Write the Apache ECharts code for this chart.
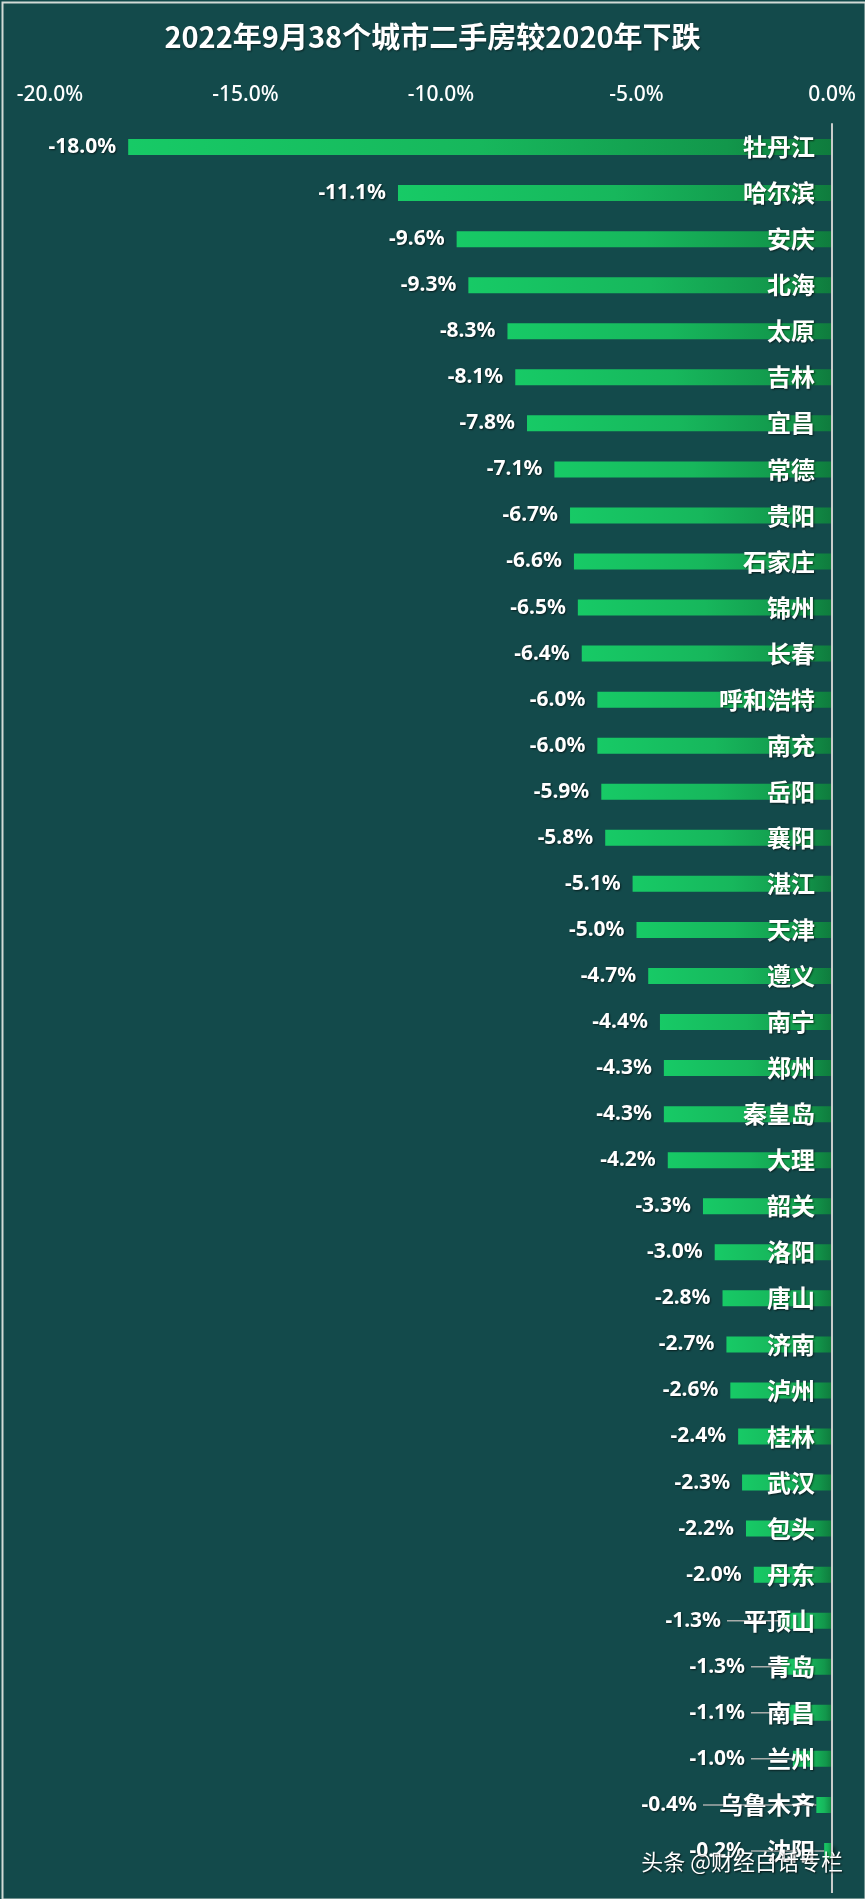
<!DOCTYPE html>
<html>
<head>
<meta charset="utf-8">
<script src="https://cdn.jsdelivr.net/npm/echarts@6/dist/echarts.min.js"></script>
<style>
html,body{margin:0;padding:0;background:#134a4b;}
#chart{width:865px;height:1899px;}
</style>
</head>
<body>
<div id="chart"></div>
<script>
var titleText = '2022年9月38个城市二手房较2020年下跌';
var cities = ['牡丹江','哈尔滨','安庆','北海','太原','吉林','宜昌','常德','贵阳','石家庄','锦州','长春','呼和浩特','南充','岳阳','襄阳','湛江','天津','遵义','南宁','郑州','秦皇岛','大理','韶关','洛阳','唐山','济南','泸州','桂林','武汉','包头','丹东','平顶山','青岛','南昌','兰州','乌鲁木齐','沈阳'];
var changes = [-18.0,-11.1,-9.6,-9.3,-8.3,-8.1,-7.8,-7.1,-6.7,-6.6,-6.5,-6.4,-6.0,-6.0,-5.9,-5.8,-5.1,-5.0,-4.7,-4.4,-4.3,-4.3,-4.2,-3.3,-3.0,-2.8,-2.7,-2.6,-2.4,-2.3,-2.2,-2.0,-1.3,-1.3,-1.1,-1.0,-0.4,-0.2];
var xMin = -20, xMax = 0, xStep = 5;
var watermark = '头条 @财经白话专栏';

var NAME_FONT = 'bold 24px "Noto Sans CJK SC"';
var VAL_FONT = 'bold 21px "Noto Sans"';
var measureCtx = document.createElement('canvas').getContext('2d');
function textWidth(t, font){ measureCtx.font = font; return measureCtx.measureText(t).width; }

var chart = echarts.init(document.getElementById('chart'));
var NAME_MARGIN = 17;

var barGradient = new echarts.graphic.LinearGradient(0, 0, 1, 0, [
  {offset: 0, color: '#17ca66'},
  {offset: 0.5, color: '#17b75c'},
  {offset: 0.85, color: '#12974b'},
  {offset: 1, color: '#0f7b3d'}
]);

var option = {
  backgroundColor: '#134a4b',
  animation: false,
  title: {
    text: titleText,
    left: 'center',
    top: 17,
    textStyle: {color: '#ffffff', fontSize: 29, fontWeight: 'bold', fontFamily: '"Noto Sans CJK SC"',
      textShadowColor: 'rgba(0,0,0,0.5)', textShadowBlur: 2, textShadowOffsetX: 1, textShadowOffsetY: 1}
  },
  grid: {left: 50, right: 33, top: 124, height: 1750, containLabel: false},
  xAxis: {
    type: 'value', position: 'top', min: xMin, max: xMax, interval: xStep,
    axisLine: {show: false}, axisTick: {show: false}, splitLine: {show: false},
    axisLabel: {color: '#ffffff', fontSize: 21, fontFamily: '"Noto Sans"', fontWeight: 500, margin: 18,
      formatter: function(v){ return v.toFixed(1) + '%'; }}
  },
  yAxis: {
    type: 'category', data: cities, inverse: true, position: 'right', z: 10,
    axisLine: {show: true, lineStyle: {color: '#c9cccb', width: 2}},
    axisTick: {show: false},
    axisLabel: {inside: true, margin: NAME_MARGIN, color: '#ffffff', fontSize: 24, fontWeight: 'bold',
      fontFamily: '"Noto Sans CJK SC"',
      textShadowColor: 'rgba(0,0,0,0.6)', textShadowBlur: 2, textShadowOffsetX: 1, textShadowOffsetY: 1}
  },
  series: [
    {
      type: 'bar', data: changes, barWidth: 16,
      itemStyle: {color: barGradient, shadowColor: 'rgba(0,0,0,0.55)', shadowBlur: 4, shadowOffsetX: 3, shadowOffsetY: 4}
    },
    {
      type: 'custom', z: 5,
      data: changes.map(function(v, i){ return [i, v]; }),
      encode: {x: 1, y: 0},
      renderItem: function(params, api){
        var i = api.value(0), v = api.value(1);
        var p = api.coord([v, i]);
        var zero = api.coord([0, i]);
        var nameLeft = zero[0] - NAME_MARGIN - textWidth(cities[i], NAME_FONT);
        var right = p[0] - 12;
        var children = [];
        if (right > nameLeft - 4) {
          right = nameLeft - 22;
          children.push({type: 'line', shape: {x1: right + 6, y1: p[1], x2: p[0], y2: p[1]},
            style: {stroke: '#a9adab', lineWidth: 1.5}});
        }
        children.push({type: 'text', style: {text: v.toFixed(1) + '%', x: right, y: p[1], align: 'right', verticalAlign: 'middle',
          fill: '#ffffff', font: VAL_FONT, textShadowColor: 'rgba(0,0,0,0.6)', textShadowBlur: 2, textShadowOffsetX: 1, textShadowOffsetY: 1}});
        return {type: 'group', children: children};
      }
    }
  ]
};
chart.setOption(option);

// extend the right axis line down to the frame bottom, as in the original
var axisX = chart.convertToPixel({xAxisIndex: 0}, 0);
var gridBottom = 124 + 1750;
chart.setOption({graphic: [
  {type: 'rect', left: 0, top: 0, z: 100, shape: {x: 1, y: 1, width: 863, height: 1897},
    style: {fill: 'none', stroke: '#d2dad6', lineWidth: 2}},
  {type: 'text', right: 22, top: 1851, z: 100,
    style: {text: watermark, fill: '#ffffff', font: '22px "Noto Sans CJK SC"',
      textShadowColor: 'rgba(0,0,0,0.8)', textShadowBlur: 2, textShadowOffsetX: 1, textShadowOffsetY: 1}},
  {type: 'line', z: 50, shape: {x1: axisX, y1: gridBottom, x2: axisX, y2: 1893},
    style: {stroke: '#c9cccb', lineWidth: 2}}
]});
</script>
</body>
</html>
